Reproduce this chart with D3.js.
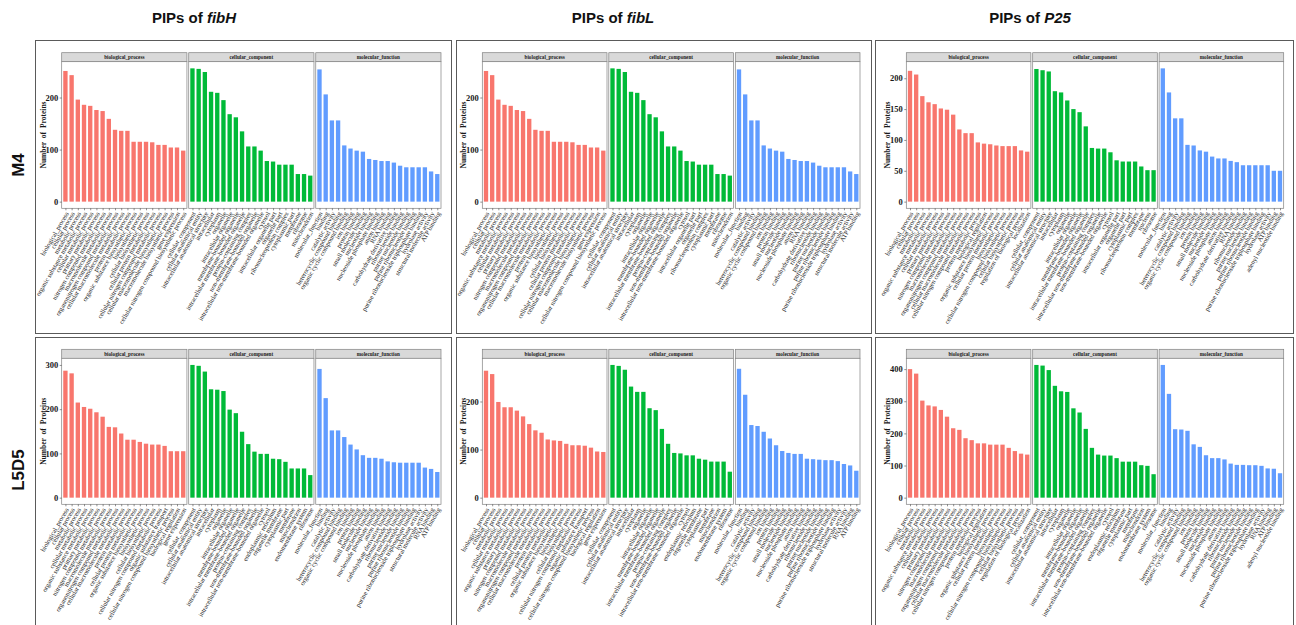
<!DOCTYPE html>
<html>
<head>
<meta charset="utf-8">
<script src="https://cdn.jsdelivr.net/npm/d3@7"></script>
<style>
body { margin: 0; background: #fff; }
svg { display: block; }
</style>
</head>
<body>
<div class="canvas"></div>
<script>
// ---- data ----
const ontologies = ["biological_process", "cellular_component", "molecular_function"]
const genes = ["fibH", "fibL", "P25"]
const stages = ["M4", "L5D5"]

// GO terms (x categories)
const bpTermsM4 = ["biological_process", "cellular process", "metabolic process", "organic substance metabolic process",
    "cellular metabolic process", "primary metabolic process", "nitrogen compound metabolic process",
    "macromolecule metabolic process", "organonitrogen compound metabolic process", "cellular macromolecule metabolic process",
    "protein metabolic process", "organic substance biosynthetic process", "biosynthetic process", "cellular biosynthetic process",
    "cellular protein metabolic process", "cellular nitrogen compound metabolic process", "cellular macromolecule biosynthetic process",
    "macromolecule biosynthetic process", "gene expression", "cellular nitrogen compound biosynthetic process"]
const ccTermsM4 = ["cellular_component", "cellular anatomical entity", "intracellular anatomical structure", "intracellular",
    "cytoplasm", "organelle", "intracellular organelle", "membrane-bounded organelle", "intracellular membrane-bounded organelle",
    "protein-containing complex", "non-membrane-bounded organelle", "intracellular non-membrane-bounded organelle", "cytosol",
    "intracellular organelle part", "organelle part", "ribonucleoprotein complex", "cytoplasmic part", "membrane", "ribosome",
    "mitochondrion"]
const mfTermsM4 = ["molecular_function", "binding", "catalytic activity", "heterocyclic compound binding",
    "organic cyclic compound binding", "ion binding", "protein binding", "small molecule binding", "nucleotide binding",
    "nucleoside phosphate binding", "anion binding", "RNA binding", "carbohydrate derivative binding", "ribonucleotide binding",
    "purine nucleotide binding", "purine ribonucleotide binding", "purine ribonucleoside triphosphate binding",
    "hydrolase activity", "structural molecule activity", "ATP binding"]

const bpTermsP25M4 = ["biological_process", "cellular process", "metabolic process", "organic substance metabolic process",
    "cellular metabolic process", "primary metabolic process", "nitrogen compound metabolic process",
    "macromolecule metabolic process", "organonitrogen compound metabolic process", "cellular macromolecule metabolic process",
    "cellular nitrogen compound metabolic process", "protein metabolic process", "biological regulation",
    "organic substance biosynthetic process", "cellular protein metabolic process", "biosynthetic process",
    "cellular nitrogen compound biosynthetic process", "cellular biosynthetic process", "regulation of biological process",
    "localization"]
const ccTermsP25M4 = ["cellular_component", "cellular anatomical entity", "intracellular anatomical structure", "intracellular",
    "cytoplasm", "organelle", "intracellular organelle", "membrane-bounded organelle", "intracellular membrane-bounded organelle",
    "protein-containing complex", "intracellular non-membrane-bounded organelle", "non-membrane-bounded organelle",
    "cytosol", "intracellular organelle part", "organelle part", "cytoplasmic part", "ribonucleoprotein complex",
    "membrane", "nucleus", "ribosome"]
const mfTermsP25M4 = ["molecular_function", "binding", "catalytic activity", "heterocyclic compound binding",
    "organic cyclic compound binding", "ion binding", "protein binding", "small molecule binding", "nucleotide binding",
    "nucleoside phosphate binding", "anion binding", "carbohydrate derivative binding", "RNA binding",
    "ribonucleotide binding", "purine nucleotide binding", "purine ribonucleotide binding",
    "purine ribonucleoside triphosphate binding", "hydrolase activity", "ATP binding", "adenyl nucleotide binding"]

const bpTermsL5D5 = ["biological_process", "cellular process", "metabolic process", "cellular metabolic process",
    "organic substance metabolic process", "primary metabolic process", "nitrogen compound metabolic process",
    "macromolecule metabolic process", "organonitrogen compound metabolic process", "cellular macromolecule metabolic process",
    "protein metabolic process", "cellular protein metabolic process", "organic substance biosynthetic process",
    "biosynthetic process", "cellular biosynthetic process", "cellular nitrogen compound metabolic process",
    "organic substance transport", "cellular nitrogen compound biosynthetic process", "biological regulation", "gene expression"]
const ccTermsL5D5 = ["cellular_component", "cellular anatomical entity", "intracellular anatomical structure", "intracellular",
    "cytoplasm", "organelle", "intracellular organelle", "membrane-bounded organelle", "intracellular membrane-bounded organelle",
    "protein-containing complex", "non-membrane-bounded organelle", "intracellular non-membrane-bounded organelle", "cytosol",
    "endoplasmic reticulum", "organelle membrane", "cytoplasmic part", "membrane", "mitochondrion", "endomembrane system",
    "ribosome"]
const mfTermsL5D5 = ["molecular_function", "binding", "catalytic activity", "heterocyclic compound binding",
    "organic cyclic compound binding", "ion binding", "protein binding", "small molecule binding", "nucleotide binding",
    "nucleoside phosphate binding", "anion binding", "carbohydrate derivative binding", "ribonucleotide binding",
    "purine nucleotide binding", "purine ribonucleotide binding", "purine ribonucleoside triphosphate binding",
    "hydrolase activity", "structural molecule activity", "RNA binding", "ATP binding"]
const mfTermsP25L5D5 = ["molecular_function", "binding", "catalytic activity", "heterocyclic compound binding",
    "organic cyclic compound binding", "ion binding", "protein binding", "small molecule binding", "nucleotide binding",
    "nucleoside phosphate binding", "anion binding", "carbohydrate derivative binding", "ribonucleotide binding",
    "purine nucleotide binding", "purine ribonucleotide binding", "purine ribonucleoside triphosphate binding",
    "hydrolase activity", "RNA binding", "ATP binding", "adenyl nucleotide binding"]

// Number of proteins per term
const fibH_M4_bp = [251, 243, 196, 186, 184, 176, 174, 159, 138, 136, 136, 115, 115, 115, 114, 109, 109, 104, 104, 98]
const fibH_M4_cc = [256, 255, 249, 211, 209, 195, 168, 162, 135, 106, 106, 98, 78, 77, 71, 71, 71, 53, 53, 50]
const fibH_M4_mf = [254, 206, 156, 156, 108, 102, 98, 96, 82, 80, 78, 78, 75, 69, 66, 66, 66, 66, 58, 53]

const fibL_M4_bp = [251, 243, 196, 186, 184, 176, 174, 159, 138, 136, 136, 115, 115, 115, 114, 109, 109, 104, 104, 98]
const fibL_M4_cc = [256, 255, 249, 211, 209, 195, 168, 162, 135, 106, 106, 98, 78, 77, 71, 71, 71, 53, 53, 50]
const fibL_M4_mf = [254, 206, 156, 156, 108, 102, 98, 96, 82, 80, 78, 78, 75, 69, 66, 66, 66, 66, 58, 53]

const P25_M4_bp = [212, 206, 171, 161, 158, 151, 149, 141, 117, 111, 111, 96, 94, 93, 91, 90, 90, 90, 83, 81]
const P25_M4_cc = [215, 213, 211, 179, 177, 164, 150, 145, 122, 87, 86, 86, 80, 67, 65, 65, 65, 57, 51, 51]
const P25_M4_mf = [216, 177, 135, 135, 92, 91, 83, 81, 73, 70, 70, 66, 64, 59, 59, 59, 59, 59, 50, 50]

const fibH_L5D5_bp = [287, 281, 215, 205, 201, 193, 183, 160, 159, 145, 131, 131, 126, 122, 120, 120, 117, 105, 105, 105]
const fibH_L5D5_cc = [300, 298, 285, 245, 244, 241, 199, 191, 149, 121, 104, 99, 99, 88, 87, 81, 66, 66, 66, 51]
const fibH_L5D5_mf = [291, 225, 152, 152, 137, 120, 109, 96, 90, 90, 88, 82, 80, 79, 79, 79, 79, 68, 65, 58]

const fibL_L5D5_bp = [264, 257, 199, 188, 188, 181, 169, 153, 140, 135, 121, 119, 118, 112, 109, 109, 108, 104, 96, 95]
const fibL_L5D5_cc = [276, 274, 266, 231, 220, 220, 186, 182, 143, 112, 93, 92, 88, 88, 81, 79, 75, 75, 75, 54]
const fibL_L5D5_mf = [268, 214, 151, 149, 137, 123, 109, 97, 93, 91, 91, 81, 80, 79, 78, 78, 76, 70, 67, 56]

const P25_L5D5_bp = [400, 386, 302, 287, 284, 273, 252, 216, 211, 185, 179, 169, 169, 165, 165, 165, 155, 145, 137, 134]
const P25_L5D5_cc = [413, 411, 397, 348, 331, 329, 278, 265, 214, 155, 134, 131, 131, 123, 112, 112, 112, 101, 99, 73]
const P25_L5D5_mf = [413, 323, 213, 212, 208, 166, 158, 132, 123, 123, 119, 106, 102, 102, 101, 101, 99, 91, 90, 76]

// y tick labels per panel
const ticksA = [0, 100, 200]
const ticksB = [0, 50, 100, 150, 200]
const ticksC = [0, 100, 200, 300]
const ticksD = [0, 100, 200, 300, 400]

const panels = [
    { row: 0, col: 0, values: [fibH_M4_bp, fibH_M4_cc, fibH_M4_mf], terms: [bpTermsM4, ccTermsM4, mfTermsM4], ticks: ticksA },
    { row: 0, col: 1, values: [fibL_M4_bp, fibL_M4_cc, fibL_M4_mf], terms: [bpTermsM4, ccTermsM4, mfTermsM4], ticks: ticksA },
    { row: 0, col: 2, values: [P25_M4_bp, P25_M4_cc, P25_M4_mf], terms: [bpTermsP25M4, ccTermsP25M4, mfTermsP25M4], ticks: ticksB },
    { row: 1, col: 0, values: [fibH_L5D5_bp, fibH_L5D5_cc, fibH_L5D5_mf], terms: [bpTermsL5D5, ccTermsL5D5, mfTermsL5D5], ticks: ticksC },
    { row: 1, col: 1, values: [fibL_L5D5_bp, fibL_L5D5_cc, fibL_L5D5_mf], terms: [bpTermsL5D5, ccTermsL5D5, mfTermsL5D5], ticks: ticksA },
    { row: 1, col: 2, values: [P25_L5D5_bp, P25_L5D5_cc, P25_L5D5_mf], terms: [bpTermsP25M4, ccTermsL5D5, mfTermsP25L5D5], ticks: ticksD }
]

// ---- layout ----
const width = 1296
const height = 625
const colours = ["#F8766D", "#00BA38", "#619CFF"]

const boxX = [35, 456, 875]
const boxW = [416, 415, 418]
const boxY = [40, 337]
const boxH = [293, 300]
const titleX = [194, 613, 1030]
const plotLeft = [61.7, 482.3, 906.3]
const plotRight = [441, 860, 1283.7]
const stripTop = [52.7, 349.3]
const stripH = 9
const plotBottom = [208.3, 504.3]
const facetGap = 1.8

const svg = d3.select(".canvas")
    .append("svg")
    .attr("width", width)
    .attr("height", height)

// column titles
genes.forEach((gene, i) => {
    const t = svg.append("text")
        .attr("x", titleX[i])
        .attr("y", 23)
        .attr("text-anchor", "middle")
        .attr("font-family", "Liberation Sans, Arial, sans-serif")
        .attr("font-weight", "bold")
        .attr("font-size", 15)
        .attr("fill", "#111")
    t.append("tspan").text("PIPs of ")
    t.append("tspan").attr("font-style", "italic").text(gene)
})

// row labels
stages.forEach((stage, i) => {
    const cy = boxY[i] + 125 + i * 8
    svg.append("text")
        .attr("transform", `translate(24, ${cy}) rotate(-90)`)
        .attr("text-anchor", "middle")
        .attr("font-family", "Liberation Sans, Arial, sans-serif")
        .attr("font-weight", "bold")
        .attr("font-size", 17)
        .attr("fill", "#111")
        .text(stage)
})

panels.forEach(p => {
    const g = svg.append("g")

    // outer frame
    g.append("rect")
        .attr("x", boxX[p.col] + 0.5)
        .attr("y", boxY[p.row] + 0.5)
        .attr("width", boxW[p.col])
        .attr("height", boxH[p.row])
        .attr("fill", "#fff")
        .attr("stroke", "#5a5a5a")
        .attr("stroke-width", 1)

    const top = stripTop[p.row] + stripH
    const bottom = plotBottom[p.row]
    const maxV = d3.max(p.values.flat())

    const scaleY = d3.scaleLinear()
        .domain([-0.05 * maxV, 1.05 * maxV])
        .range([bottom, top])

    const facetW = (plotRight[p.col] - plotLeft[p.col] - 2 * facetGap) / 3

    p.values.forEach((vals, f) => {
        const x0 = plotLeft[p.col] + f * (facetW + facetGap)
        const scaleX = d3.scalePoint()
            .domain(p.terms[f])
            .range([x0, x0 + facetW])
            .padding(0.6)
        const barW = scaleX.step() * 0.7

        // strip
        g.append("rect")
            .attr("x", x0)
            .attr("y", stripTop[p.row])
            .attr("width", facetW)
            .attr("height", stripH)
            .attr("fill", "#d9d9d9")
            .attr("stroke", "#808080")
            .attr("stroke-width", 0.7)
        g.append("text")
            .attr("x", x0 + facetW / 2)
            .attr("y", stripTop[p.row] + stripH / 2)
            .attr("dy", "0.35em")
            .attr("text-anchor", "middle")
            .attr("font-family", "Liberation Serif, Times New Roman, serif")
            .attr("font-weight", "bold")
            .attr("font-size", 5.2)
            .attr("fill", "#1a1a1a")
            .text(ontologies[f])

        // panel
        g.append("rect")
            .attr("x", x0)
            .attr("y", top)
            .attr("width", facetW)
            .attr("height", bottom - top)
            .attr("fill", "#fff")
            .attr("stroke", "#808080")
            .attr("stroke-width", 0.7)

        g.append("g").selectAll("rect")
            .data(vals)
            .enter()
            .append("rect")
            .attr("x", (d, i) => scaleX(p.terms[f][i]) - barW / 2)
            .attr("y", d => scaleY(d))
            .attr("width", barW)
            .attr("height", d => scaleY(0) - scaleY(d))
            .attr("fill", colours[f])

        const xAxisGroup = g.append("g")
            .attr("transform", `translate(0, ${bottom})`)
            .call(d3.axisBottom(scaleX).tickSize(2))
        xAxisGroup.select(".domain").remove()
        xAxisGroup.selectAll("line").attr("stroke", "#444").attr("stroke-width", 0.6)
        xAxisGroup.selectAll("text")
            .attr("x", 0)
            .attr("y", 0)
            .attr("dy", "0.35em")
            .attr("transform", "translate(1, 4) rotate(-60)")
            .attr("text-anchor", "end")
            .attr("font-family", "Liberation Serif, Times New Roman, serif")
            .attr("font-size", 6.6)
            .attr("fill", "#222")
    })

    const yAxisGroup = g.append("g")
        .attr("transform", `translate(${plotLeft[p.col]}, 0)`)
        .call(d3.axisLeft(scaleY).tickValues(p.ticks).tickSize(2).tickPadding(1.5))
    yAxisGroup.select(".domain").remove()
    yAxisGroup.selectAll("line").attr("stroke", "#444").attr("stroke-width", 0.6)
    yAxisGroup.selectAll("text")
        .attr("font-family", "Liberation Serif, Times New Roman, serif")
        .attr("font-weight", "bold")
        .attr("font-size", 8.5)
        .attr("fill", "#1a1a1a")

    g.append("text")
        .attr("transform", `translate(${plotLeft[p.col] - 16}, ${(top + bottom) / 2}) rotate(-90)`)
        .attr("text-anchor", "middle")
        .attr("font-family", "Liberation Serif, Times New Roman, serif")
        .attr("font-weight", "bold")
        .attr("font-size", 7.5)
        .attr("word-spacing", 2)
        .attr("fill", "#1a1a1a")
        .text("Number of Proteins")
})
</script>
</body>
</html>
